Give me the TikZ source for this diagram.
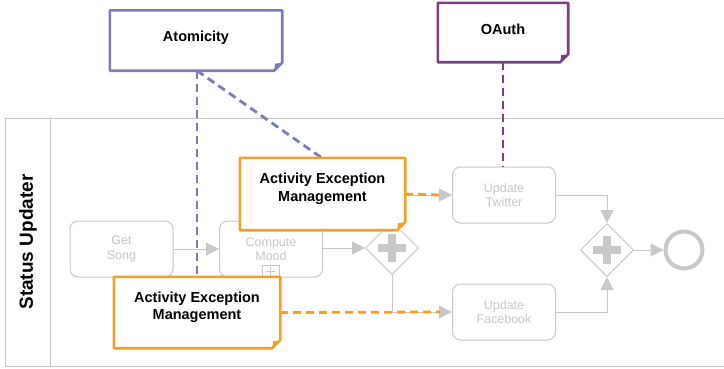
\documentclass[tikz,border=0pt]{standalone}
\usepackage{fontspec}
\setmainfont{Liberation Sans}
\usetikzlibrary{arrows.meta,shapes.geometric,positioning,calc}
\definecolor{atomcol}{RGB}{124,125,178}
\definecolor{oauthcol}{RGB}{124,64,128}
\definecolor{orangecol}{RGB}{246,160,42}
\definecolor{taskgray}{RGB}{200,200,200}
\newcommand\notefold[3]{% node, colour, fold size
  \draw[#2, line width=2.6pt, line join=round]
    (#1.north west) -- (#1.north east) -- ([yshift=#3]#1.south east)
    -- ([xshift=-#3]#1.south east) -- (#1.south west) -- cycle;
  \fill[#2] ([yshift=#3]#1.south east) -- ([xshift=-#3]#1.south east)
    -- ([xshift=-#3+1pt,yshift=#3-1pt]#1.south east) -- cycle;
}
\begin{document}
\begin{tikzpicture}[x=1pt,y=-1pt,
  task/.style={draw=taskgray, line width=1pt, rounded corners=8pt, fill=white,
    text=taskgray, font=\fontsize{12.5}{14.5}\selectfont, align=center,
    minimum width=103pt, minimum height=56pt, inner sep=0pt},
  gate/.style={draw=taskgray, line width=1pt, diamond, fill=white,
    minimum width=53pt, minimum height=53pt, inner sep=0pt},
  flow/.style={draw=taskgray, line width=1pt, -{Triangle[length=13pt,width=13pt]}},
  notebox/.style={fill=white, inner sep=0pt},
  notetext/.style={font=\bfseries\fontsize{14.5}{17.5}\selectfont,
    align=center, inner sep=0pt, text=black},
  assoc/.style={dashed, dash pattern=on 8pt off 5pt, line width=2.8pt},
  plusarm/.style={taskgray, line width=8pt}
]
\useasboundingbox (0,0) rectangle (724,368);
% pool
\draw[taskgray, line width=1pt] (740,118.5) -- (5,118.5) -- (5,366) -- (740,366);
\draw[taskgray, line width=1pt] (50,118.5) -- (50,366);
\node[rotate=90, font=\bfseries\fontsize{19}{22}\selectfont] (pool) at (28,242) {Status Updater};

% tasks
\node[task] (song) at (121.5,249) {Get\\Song};
\node[task] (mood) at (271,249) {Compute\\Mood};
\draw[taskgray, line width=1pt] (262,265) rectangle (279,278);
\draw[taskgray, line width=1pt] (266,271.5) -- (275,271.5) (270.5,267) -- (270.5,276);
\node[task] (tw) at (504,195) {Update\\Twitter};
\node[task] (fb) at (504,312) {Update\\Facebook};

% gateways
\node[gate] (g1) at (392,248) {};
\node[gate] (g2) at (607,250) {};
\foreach \g in {g1,g2}{
  \draw[plusarm] ([xshift=-14pt]\g.center) -- ([xshift=14pt]\g.center);
  \draw[plusarm] ([yshift=-14pt]\g.center) -- ([yshift=14pt]\g.center);
}
\node[circle, draw=taskgray, line width=4pt, minimum size=37pt, inner sep=0pt] (end) at (684,250) {};

% sequence flows
\draw[flow] (song.east) -- (mood.west);
\draw[flow] (mood.east |- g1.west) -- (g1.west);
\draw[flow] (g1.north) |- (tw.west);
\draw[flow] (g1.south) |- (fb.west);
\draw[flow] (tw.east) -| (g2.north);
\draw[flow] (fb.east) -| (g2.south);
\draw[flow] (g2.east) -- (end.west);

% annotation boxes (shapes)
\node[notebox, minimum width=172pt, minimum height=60pt] (atom) at (196,40.5) {};
\node[notebox, minimum width=130pt, minimum height=59pt] (oauth) at (503,32.5) {};

\coordinate (atomfoot) at ([xshift=1pt]atom.south);

% associations from the Atomicity / OAuth notes
\draw[assoc, atomcol] (atomfoot) -- (atomfoot |- 0,277);
\draw[assoc, atomcol] (atomfoot) -- (322,158);
\draw[assoc, oauthcol] (oauth.south) -- (oauth.south |- 0,167);

\node[notebox, minimum width=165pt, minimum height=72pt] (aem1) at (322.5,194) {};
\node[notebox, minimum width=166pt, minimum height=71pt] (aem2) at (197,312.5) {};

\notefold{atom}{atomcol}{8pt}
\notefold{oauth}{oauthcol}{8pt}
\notefold{aem1}{orangecol}{8pt}
\notefold{aem2}{orangecol}{8pt}

% note texts
\node[notetext] (atomtxt) at ([yshift=3pt]atom.center) {Atomicity};
\node[notetext] (oauthtxt) at ([yshift=3pt]oauth.center) {OAuth};
\node[notetext] (aem1txt) at ([yshift=5pt]aem1.center) {Activity Exception\\Management};
\node[notetext] (aem2txt) at ([yshift=5pt]aem2.center) {Activity Exception\\Management};

\coordinate (twin) at ([xshift=-12pt]tw.west);
\coordinate (fbin) at ([xshift=-12pt]fb.west);
\draw[assoc, orangecol] (aem1.east) -- (twin);
\draw[assoc, orangecol] (aem2.east) -- (fbin);
\end{tikzpicture}
\end{document}
